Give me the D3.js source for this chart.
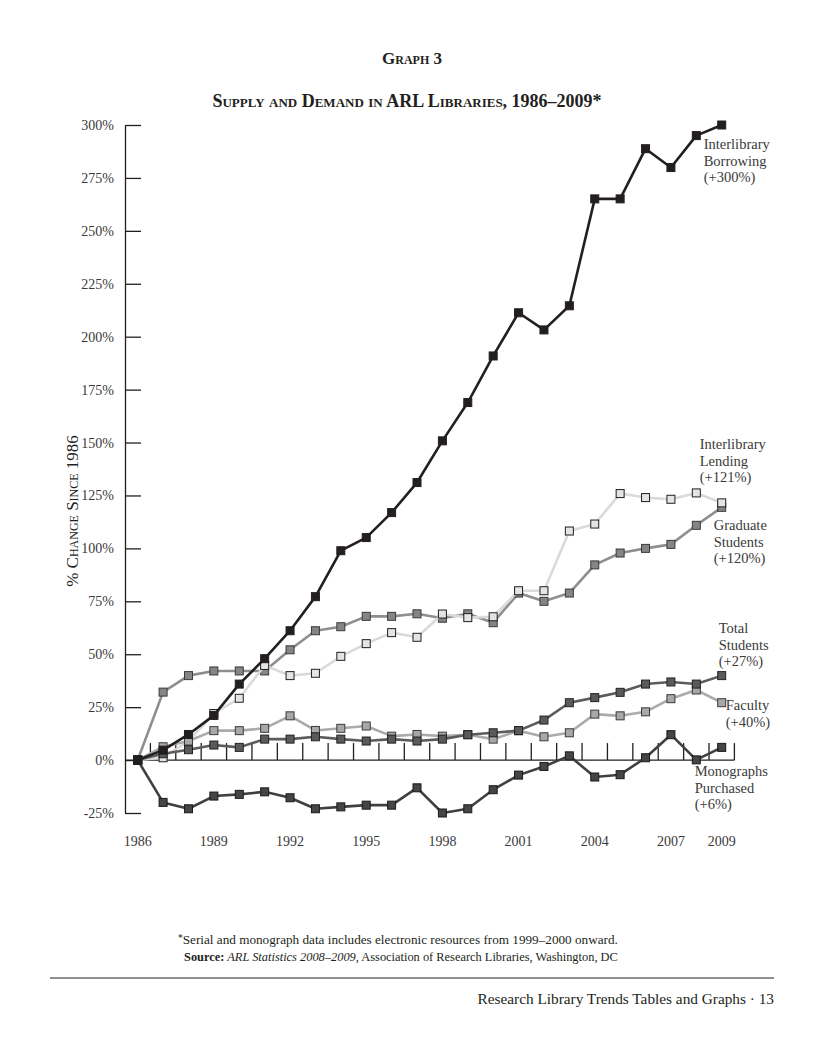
<!DOCTYPE html>
<html><head><meta charset="utf-8">
<script src="https://cdn.jsdelivr.net/npm/d3@7"></script>
<style>
html,body{margin:0;padding:0;background:#fff;}
svg{display:block;font-family:"Liberation Serif","Times New Roman",serif;}
</style></head><body>
<svg id="c" width="824" height="1050"></svg>
<script>
// ---------- data ----------
const years = [1986,1987,1988,1989,1990,1991,1992,1993,1994,1995,1996,1997,1998,1999,2000,2001,2002,2003,2004,2005,2006,2007,2008,2009];
const xTickLabels = [1986,1989,1992,1995,1998,2001,2004,2007,2009];
const yTicks = [-25,0,25,50,75,100,125,150,175,200,225,250,275,300];

const interlibraryBorrowing = [0,4.7,12.1,21.1,35.9,47.9,61.1,77.2,98.9,105.1,116.9,131.1,150.8,168.9,190.9,211.3,203.2,214.6,265.1,265.1,288.8,279.9,295.0,300];
const interlibraryLending   = [0,1.1,9.0,22,29.2,44.7,39.9,41.0,49.0,55.0,60.2,58.0,69.0,67.3,67.7,80.0,80.0,108.2,111.5,125.9,124.0,123.2,126.2,121.5];
const graduateStudents      = [0,32.1,39.9,42.1,42.1,42.1,52.1,61.1,63.0,67.9,67.9,69.1,67.0,69.1,64.9,78.9,75.0,78.9,92.2,97.8,100.0,101.9,110.9,119.4];
const faculty               = [0,3,4.9,7.1,6.0,9.9,9.9,11.0,9.9,9.0,9.9,9.0,9.9,12.0,12.9,13.9,18.9,27.1,29.5,32.0,35.9,36.9,35.9,39.9];
const totalStudents         = [0,6.3,9.0,13.9,13.9,15.0,20.9,14.0,15.0,16.1,11.3,12.1,11.3,12.0,9.9,13.9,11.0,12.9,21.7,20.9,22.8,29.0,33.1,27.1];
const monographsPurchased   = [0,-20,-23,-17,-16.2,-15,-17.8,-23,-22.1,-21.3,-21.3,-13.1,-25,-23,-14,-7.1,-3,2,-8,-6.9,1.1,12,0.1,6];

const seriesLabels = [
  {lines:["Interlibrary","Borrowing","(+300%)"], dx:-18, y:149},
  {lines:["Interlibrary","Lending","(+121%)"], dx:-22, y:449},
  {lines:["Graduate","Students","(+120%)"], dx:-8, y:530},
  {lines:["Total","Students","(+27%)"], dx:-3, y:633},
  {lines:["Faculty","(+40%)"], dx:4, y:710},
  {lines:["Monographs","Purchased","(+6%)"], dx:-27, y:776}
];

// ---------- scales ----------
const svg = d3.select("#c");
const x = d3.scaleBand().domain(years).range([125, 734.4]).padding(0);
const cx = d => x(d) + x.bandwidth()/2;
const y = d3.scaleLinear().domain([-25, 300]).range([813, 125]);
const ink = "#231f20";

// titles
svg.append("text").attr("x", 412).attr("y", 64).attr("text-anchor","middle")
  .attr("font-size", 17).attr("font-weight","bold").style("font-variant","small-caps")
  .attr("fill", ink).text("Graph 3");
svg.append("text").attr("x", 407).attr("y", 107).attr("text-anchor","middle")
  .attr("font-size", 18).attr("font-weight","bold").style("font-variant","small-caps")
  .attr("fill", ink).text("Supply and Demand in ARL Libraries, 1986–2009*");

// y axis
const yAxis = d3.axisLeft(y).tickValues(yTicks).tickSizeInner(-16).tickSizeOuter(0).tickPadding(11)
  .tickFormat(d => d + "%");
const gy = svg.append("g").attr("transform","translate(125,0)").call(yAxis);
gy.selectAll("path,line").attr("stroke", ink).attr("stroke-width", 1.3);
gy.selectAll("text").attr("font-family","Liberation Serif").attr("font-size", 14).attr("fill", "#3a3a3a");

svg.append("text").attr("transform","translate(78,511) rotate(-90)").attr("text-anchor","middle")
  .attr("font-size", 17).style("font-variant","small-caps").attr("fill", ink)
  .text("% Change Since 1986");

// x axis (baseline at 0%)
const gx = svg.append("g");
gx.append("line").attr("x1", 125).attr("x2", x(years[years.length-1]) + x.bandwidth())
  .attr("y1", y(0)).attr("y2", y(0)).attr("stroke", ink).attr("stroke-width", 1.3);
gx.selectAll("line.tk").data(years).join("line").attr("class","tk")
  .attr("x1", d => x(d) + x.bandwidth()).attr("x2", d => x(d) + x.bandwidth())
  .attr("y1", y(0)).attr("y2", y(0) - 17).attr("stroke", ink).attr("stroke-width", 1.3);
gx.selectAll("text").data(xTickLabels).join("text")
  .attr("x", d => cx(d)).attr("y", 846).attr("text-anchor","middle")
  .attr("font-size", 14).attr("fill", "#3a3a3a").text(d => d);

// series
const series = [
  {v: graduateStudents, line:"#8e8e8e", fill:"#858585", stroke:"#3a3a3a", size:8},
  {v: interlibraryLending, line:"#dadada", fill:"#e4e4e4", stroke:ink, size:8},
  {v: totalStudents, line:"#ababab", fill:"#a8a8a8", stroke:"#3a3a3a", size:8},
  {v: faculty, line:"#5c5c5c", fill:"#5a5a5a", stroke:"#222", size:8},
  {v: monographsPurchased, line:"#404040", fill:"#454545", stroke:"#1a1a1a", size:8},
  {v: interlibraryBorrowing, line:ink, fill:ink, stroke:ink, size:8}
];
const lineGen = d3.line().x((d,i) => cx(years[i])).y(d => y(d));
series.forEach(s => {
  const g = svg.append("g");
  g.append("path").datum(s.v).attr("d", lineGen).attr("fill","none")
    .attr("stroke", s.line).attr("stroke-width", 2.6).attr("stroke-linejoin","round");
  g.selectAll("rect").data(s.v).join("rect")
    .attr("x", (d,i) => cx(years[i]) - s.size/2).attr("y", d => y(d) - s.size/2)
    .attr("width", s.size).attr("height", s.size)
    .attr("fill", s.fill).attr("stroke", s.stroke).attr("stroke-width", 1);
});

// series labels
seriesLabels.forEach(l => {
  const t = svg.append("text").attr("font-size", 14.5).attr("fill", "#3a3a3a");
  l.lines.forEach((line, i) => {
    t.append("tspan").attr("x", cx(2009) + l.dx).attr("y", l.y + i*16.5).text(line);
  });
});

// footnotes
const fn = svg.append("text").attr("font-size", 13.2).attr("fill", ink);
fn.append("tspan").attr("x", 178).attr("y", 944).attr("font-size", 9.5).attr("dy", -3).text("*");
fn.append("tspan").attr("dy", 3).text("Serial and monograph data includes electronic resources from 1999–2000 onward.");
const src = svg.append("text").attr("x", 184).attr("y", 961).attr("font-size", 12.4).attr("fill", ink);
src.append("tspan").attr("font-weight","bold").text("Source:");
src.append("tspan").attr("font-style","italic").text(" ARL Statistics 2008–2009,");
src.append("tspan").text(" Association of Research Libraries, Washington, DC");

svg.append("line").attr("x1", 50).attr("x2", 774).attr("y1", 978).attr("y2", 978)
  .attr("stroke", ink).attr("stroke-width", 1);
svg.append("text").attr("x", 774).attr("y", 1004).attr("text-anchor","end")
  .attr("font-size", 15.3).attr("fill", ink).text("Research Library Trends Tables and Graphs · 13");
</script>
</body></html>
